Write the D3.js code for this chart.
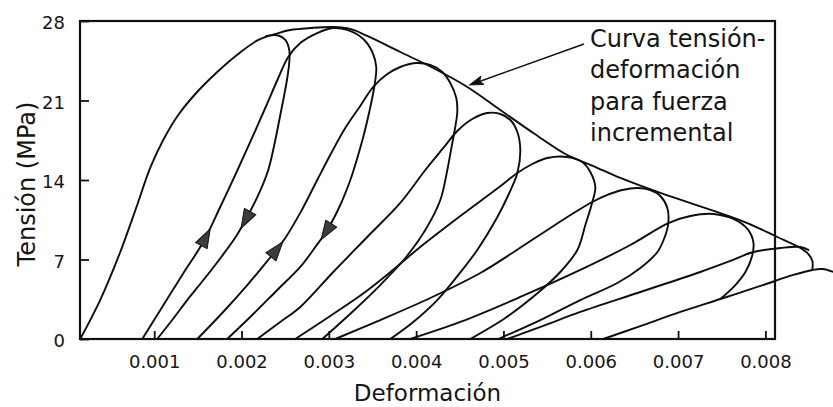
<!DOCTYPE html>
<html><head><meta charset="utf-8">
<script src="https://cdn.jsdelivr.net/npm/d3@7"></script>
<style>
body{margin:0;background:#fff}
svg{display:block}
text{font-family:"DejaVu Sans",sans-serif;fill:#151515}
</style>
</head><body>
<svg id="chart" width="833" height="407"></svg>
<script>
// ---- data (strain, stress in MPa) ----
const xTicks = [0.001,0.002,0.003,0.004,0.005,0.006,0.007,0.008];
const yTicks = [0,7,14,21,28];

const envelope = [[0.000152,0],[0.000381,3.43],[0.000611,7.66],[0.000805,11.80],[0.000954,15.06],[0.001103,17.52],[0.001275,19.72],[0.001481,21.66],[0.001710,23.42],[0.001962,25.09],[0.002192,26.33],[0.002421,26.94],[0.002558,27.21],[0.002787,27.38],[0.003051,27.47],[0.003246,27.30],[0.003440,26.68],[0.003818,25.27],[0.004196,23.86],[0.004586,22.19],[0.004964,20.16],[0.005342,18.14],[0.005731,16.20],[0.006029,15.23],[0.006339,14.18],[0.006797,12.86],[0.007484,11.09],[0.007793,10.21],[0.008137,8.98],[0.008401,8.01],[0.008492,7.48],[0.008538,6.87],[0.008538,6.08]];

const unload1 = [[0.002283,26.68],[0.002421,26.72],[0.002501,26.33],[0.002547,25.45],[0.002547,24.39],[0.002524,22.98],[0.002489,21.48],[0.002444,19.72],[0.002375,17.08],[0.002306,14.88],[0.002203,12.86],[0.002077,10.92],[0.001940,9.07],[0.001768,7.22],[0.001573,5.28],[0.001378,3.43],[0.001206,1.67],[0.001034,0]];

const loop2 = [[0.000863,0],[0.001092,2.82],[0.001321,5.64],[0.001561,8.54],[0.001756,11.62],[0.001928,14.44],[0.002100,17.35],[0.002272,20.34],[0.002421,22.98],[0.002535,24.83],[0.002673,26.06],[0.002867,26.94],[0.003051,27.38],[0.003211,27.21],[0.003394,26.42],[0.003498,25.27],[0.003543,23.95],[0.003520,22.19],[0.003463,19.99],[0.003394,17.79],[0.003326,15.94],[0.003246,14.00],[0.003131,11.80],[0.002982,9.60],[0.002845,8.10],[0.002673,6.34],[0.002398,4.23],[0.002123,2.11],[0.001836,0]];

const loop3 = [[0.001493,0],[0.001779,2.29],[0.002066,4.75],[0.002306,6.96],[0.002501,8.89],[0.002684,11.27],[0.002867,14.00],[0.003016,16.20],[0.003188,18.58],[0.003360,20.52],[0.003509,22.19],[0.003669,23.33],[0.003818,23.95],[0.003990,24.30],[0.004162,24.13],[0.004300,23.51],[0.004391,22.54],[0.004460,21.22],[0.004471,19.99],[0.004448,18.67],[0.004414,17.26],[0.004357,14.88],[0.004277,12.24],[0.004105,9.60],[0.003876,7.13],[0.003589,4.75],[0.003268,2.38],[0.002925,0]];

const loop4 = [[0.002180,0],[0.002444,1.50],[0.002673,2.82],[0.003051,5.90],[0.003440,8.98],[0.003818,11.98],[0.004105,14.88],[0.004311,16.82],[0.004471,18.31],[0.004643,19.37],[0.004815,19.90],[0.004964,19.81],[0.005079,19.28],[0.005159,18.23],[0.005193,16.64],[0.005159,14.62],[0.005056,12.68],[0.004930,10.74],[0.004700,7.84],[0.004483,5.64],[0.004242,3.43],[0.003967,1.50],[0.003704,0]];

const loop5 = [[0.002615,0],[0.003016,2.03],[0.003417,4.14],[0.003761,6.25],[0.004047,8.10],[0.004506,10.83],[0.004952,13.38],[0.005159,14.62],[0.005331,15.41],[0.005502,15.94],[0.005731,16.03],[0.005903,15.59],[0.005995,14.70],[0.006052,13.38],[0.006018,12.06],[0.005938,10.04],[0.005846,7.84],[0.005651,5.90],[0.005365,3.87],[0.005021,1.85],[0.004620,0]];

const loop6 = [[0.003074,0],[0.003589,1.67],[0.004162,3.61],[0.004735,5.81],[0.005136,7.75],[0.005502,9.60],[0.005823,11.18],[0.006018,12.06],[0.006190,12.68],[0.006361,13.12],[0.006533,13.30],[0.006682,13.12],[0.006797,12.59],[0.006877,11.53],[0.006888,10.21],[0.006843,8.89],[0.006763,7.66],[0.006568,6.25],[0.006304,4.93],[0.005880,3.43],[0.005422,1.67],[0.004941,0]];

const loop7 = [[0.003933,0],[0.004506,1.50],[0.005193,3.70],[0.005880,6.08],[0.006453,8.28],[0.006889,10.21],[0.007141,10.83],[0.007404,11.01],[0.007633,10.57],[0.007794,9.69],[0.007862,8.54],[0.007851,7.40],[0.007771,5.90],[0.007656,4.75],[0.007484,3.52]];

const reload8 = [[0.005044,0],[0.005479,1.23],[0.005880,2.38],[0.006568,4.14],[0.007255,5.90],[0.007599,6.87],[0.007863,7.66],[0.008171,8.01],[0.008401,8.10],[0.008492,7.84]];

const reload9 = [[0.006144,0],[0.006568,1.14],[0.007026,2.38],[0.007484,3.52],[0.007943,4.67],[0.008320,5.64],[0.008538,6.08],[0.008652,6.16],[0.008779,5.90]];

// direction arrows placed on curves (strain, stress)
const flowArrows = [
  {series:"loop2",   strain:0.001596, stress:8.89},
  {series:"unload1", strain:0.002054, stress:10.48},
  {series:"loop3",   strain:0.002409, stress:7.84},
  {series:"loop2",   strain:0.002971, stress:9.51}
];

const noteLines = ["Curva tensión-","deformación","para fuerza","incremental"];
const notePoint = [0.004609, 22.37];

const xLabel = "Deformación";
const yLabel = "Tensión (MPa)";

// ---- layout ----
const W = 833, H = 407;
const margin = {top:21, right:58, bottom:68, left:80};
const svg = d3.select("#chart");

const x = d3.scaleLinear().domain([0.00015, 0.00811]).range([margin.left, W - margin.right]);
const y = d3.scaleLinear().domain([0, 28]).range([H - margin.bottom, margin.top]);

const line = d3.line().x(d => x(d[0])).y(d => y(d[1])).curve(d3.curveCatmullRom.alpha(0.5));

// frame
svg.append("rect")
  .attr("x", margin.left).attr("y", margin.top)
  .attr("width", W - margin.right - margin.left)
  .attr("height", H - margin.bottom - margin.top)
  .attr("fill", "none").attr("stroke", "#111").attr("stroke-width", 2.2);

// axes
const yAxis = d3.axisLeft(y).tickValues(yTicks).tickSize(-9).tickPadding(15).tickFormat(d3.format("d"));
const gy = svg.append("g").attr("transform", `translate(${margin.left},0)`).call(yAxis);
gy.select(".domain").remove();
gy.selectAll(".tick line").attr("stroke", "#111").attr("stroke-width", 1.8);
gy.selectAll(".tick text").attr("font-size", 18).attr("font-family", "DejaVu Sans").attr("fill", "#151515").attr("dy", "0.42em");

const xAxis = d3.axisBottom(x).tickValues(xTicks).tickSize(-8).tickPadding(16).tickFormat(d3.format(".3f"));
const gx = svg.append("g").attr("transform", `translate(0,${H - margin.bottom})`).call(xAxis);
gx.select(".domain").remove();
gx.selectAll(".tick line").attr("stroke", "#111").attr("stroke-width", 1.8);
gx.selectAll(".tick text").attr("font-size", 18).attr("font-family", "DejaVu Sans").attr("fill", "#151515");

// axis titles
svg.append("text").attr("x", (margin.left + W - margin.right) / 2).attr("y", 401)
  .attr("text-anchor", "middle").attr("font-size", 23).text(xLabel);
svg.append("text").attr("transform", "translate(35,184) rotate(-90)")
  .attr("text-anchor", "middle").attr("font-size", 24).text(yLabel);

// curves
const series = {envelope, unload1, loop2, loop3, loop4, loop5, loop6, loop7, reload8, reload9};
const gc = svg.append("g").attr("fill", "none").attr("stroke", "#0d0d0d").attr("stroke-width", 1.9)
  .attr("stroke-linejoin", "round").attr("stroke-linecap", "round");
const nodes = {};
Object.entries(series).forEach(([name, pts]) => {
  nodes[name] = gc.append("path").attr("d", line(pts)).node();
});

// flow arrows (triangles oriented along the curve)
const ga = svg.append("g");
flowArrows.forEach(a => {
  const node = nodes[a.series];
  const L = node.getTotalLength();
  const tx = x(a.strain), ty = y(a.stress);
  let best = 0, bd = Infinity;
  for (let l = 0; l <= L; l += 0.5) {
    const p = node.getPointAtLength(l);
    const d = (p.x - tx) ** 2 + (p.y - ty) ** 2;
    if (d < bd) { bd = d; best = l; }
  }
  const p = node.getPointAtLength(best);
  const p0 = node.getPointAtLength(Math.max(0, best - 4));
  const p1 = node.getPointAtLength(Math.min(L, best + 4));
  const ang = Math.atan2(p1.y - p0.y, p1.x - p0.x) * 180 / Math.PI;
  ga.append("path").attr("d", "M10,0 L-9,-6.5 L-9,6.5 Z")
    .attr("transform", `translate(${p.x},${p.y}) rotate(${ang})`)
    .attr("fill", "#3c3c3c").attr("stroke", "#111").attr("stroke-width", 1).attr("stroke-linejoin", "round");
});

// annotation
const noteX = 590, noteY0 = 47, noteDy = 31.4;
const gn = svg.append("g");
noteLines.forEach((t, i) => {
  gn.append("text").attr("x", noteX).attr("y", noteY0 + i * noteDy).attr("font-size", 24).text(t);
});
const tipX = x(notePoint[0]), tipY = y(notePoint[1]);
const tailX = noteX - 6, tailY = noteY0 - 3;
gn.append("line").attr("x1", tailX).attr("y1", tailY).attr("x2", tipX + 6).attr("y2", tipY - 2)
  .attr("stroke", "#111").attr("stroke-width", 1.6);
const aAng = Math.atan2(tipY - tailY, tipX - tailX) * 180 / Math.PI;
gn.append("path").attr("d", "M0,0 L-14,-4.5 L-11,0 L-14,4.5 Z")
  .attr("transform", `translate(${tipX},${tipY}) rotate(${aAng})`)
  .attr("fill", "#111").attr("stroke", "#111").attr("stroke-width", 0.8);
</script>
</body></html>
